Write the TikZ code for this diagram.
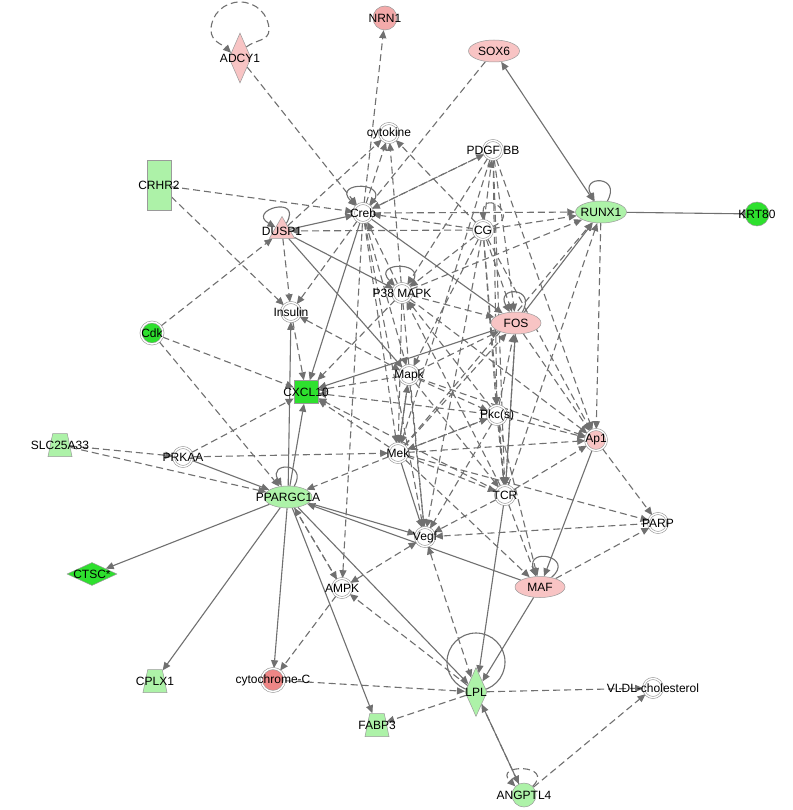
\documentclass[tikz,border=0pt]{standalone}
\usepackage{fontspec}
\setmainfont{Liberation Sans}
\usetikzlibrary{arrows.meta,shapes.geometric}
\pgfdeclarelayer{bgl}
\pgfdeclarelayer{edges}
\pgfsetlayers{bgl,edges,main}
\definecolor{lg}{HTML}{ADF2A8}
\definecolor{bg}{HTML}{2EE02E}
\definecolor{pk}{HTML}{F8C4C4}
\definecolor{rd}{HTML}{EE8686}
\definecolor{ln}{HTML}{707070}
\definecolor{bd}{HTML}{9A9A9A}
\newcommand{\myloop}[5]{\draw[#2] (#1.#3) .. controls +(#3:#5) and +(#4:#5) .. (#1.#4);}
\begin{document}
\begin{tikzpicture}[x=1pt,y=1pt,
 lbl/.style={font=\fontsize{12}{14}\selectfont, inner sep=0pt, text=black},
 dc/.style={circle, draw=bd, double=white, double distance=1.4pt, line width=0.6pt, fill=white, minimum size=19pt, inner sep=0pt},
 dcn/.style={dc, label={[lbl]center:#1}},
 ell/.style={ellipse, draw=bd, line width=0.5pt, minimum width=51pt, minimum height=22pt, inner sep=0pt},
 circ/.style={circle, draw=bd, line width=0.5pt, minimum size=24pt, inner sep=0pt},
 trap/.style={trapezium, trapezium stretches=true, trapezium left angle=72, trapezium right angle=72, draw=bd, line width=0.5pt, fill=lg, minimum width=24pt, minimum height=23pt, inner sep=1pt},
 dia/.style={diamond, draw=bd, line width=0.5pt, aspect=1, inner sep=0pt},
 de/.style={draw=ln, line width=1.1pt, dash pattern=on 7pt off 4pt, -{Triangle[length=8pt,width=7pt]}},
 se/.style={draw=ln, line width=1.1pt, -{Triangle[length=8pt,width=7pt]}},
 deb/.style={de, {Triangle[length=8pt,width=7pt]}-{Triangle[length=8pt,width=7pt]}},
 seb/.style={se, {Triangle[length=8pt,width=7pt]}-{Triangle[length=8pt,width=7pt]}},
 loopline/.style={draw=ln, line width=1.1pt}
]
\begin{pgfonlayer}{bgl}
\fill[white] (0,0) rectangle (792,-810);
\end{pgfonlayer}
\useasboundingbox (0,0) rectangle (792,-810);

% nodes
\node[dia, fill=pk, minimum width=22pt, minimum height=50pt, label={[lbl]center:ADCY1}] (adcy) at (240,-58) {};
\node[circ, fill=rd!70, label={[lbl]center:NRN1}] (nrn) at (385,-18) {};
\node[ell, fill=pk, label={[lbl]center:SOX6}] (sox) at (494,-51) {};
\node[dcn=cytokine] (cyt) at (389,-133) {};
\node[dcn=PDGF BB] (pdgf) at (493,-150) {};
\node[rectangle, draw=bd, line width=0.5pt, fill=lg, minimum width=24pt, minimum height=50pt, inner sep=0pt, label={[lbl]center:CRHR2}] (crhr) at (159,-185) {};
\node[dcn=Creb] (creb) at (363,-213) {};
\node[regular polygon, regular polygon sides=3, draw=bd, line width=0.5pt, fill=pk, minimum size=29pt, inner sep=0pt, label={[lbl]center:DUSP1}] (dusp) at (282,-231) {};
\node[dcn=CG] (cg) at (483,-230) {};
\node[ell, fill=lg, label={[lbl]center:RUNX1}] (runx) at (601,-212) {};
\node[circ, fill=bg, label={[lbl]center:KRT80}] (krt) at (757,-214) {};
\node[dcn=P38 MAPK] (p38) at (402,-293) {};
\node[dcn=Insulin] (ins) at (291,-312) {};
\node[ell, fill=pk, minimum width=50pt, label={[lbl]center:FOS}] (fos) at (516,-323) {};
\node[dc, fill=bg, minimum size=22pt, label={[lbl]center:Cdk}] (cdk) at (152,-333) {};
\node[dcn=Mapk] (mapk) at (409,-375) {};
\node[rectangle, draw=bd, line width=0.5pt, fill=bg, minimum width=24pt, minimum height=23pt, inner sep=0pt, label={[lbl]center:CXCL10}] (cxcl) at (306,-392) {};
\node[dcn=Pkc(s)] (pkc) at (497,-415) {};
\node[dc, fill=pk, minimum size=21pt, label={[lbl]center:Ap1}] (ap1) at (596,-440) {};
\node[trap, label={[lbl]center:SLC25A33}] (slc) at (60,-445) {};
\node[dcn=PRKAA] (prkaa) at (183,-457) {};
\node[dcn=Mek] (mek) at (398,-453) {};
\node[ell, fill=lg, minimum width=48pt, label={[lbl]center:PPARGC1A}] (ppar) at (288,-497) {};
\node[dcn=TCR] (tcr) at (505,-495) {};
\node[dcn=PARP] (parp) at (658,-523) {};
\node[dcn=Vegf] (vegf) at (425,-537) {};
\node[dia, fill=bg, minimum width=50pt, minimum height=23pt, label={[lbl]center:CTSC*}] (ctsc) at (92,-574) {};
\node[ell, fill=pk, minimum width=50pt, minimum height=21pt, label={[lbl]center:MAF}] (maf) at (540,-587) {};
\node[dcn=AMPK] (ampk) at (342,-588) {};
\node[trap, label={[lbl]center:CPLX1}] (cplx) at (155,-681) {};
\node[dc, fill=rd, minimum size=23pt, label={[lbl]center:cytochrome-C}] (cytc) at (273,-680) {};
\node[dia, fill=lg, minimum width=22pt, minimum height=49pt, label={[lbl]center:LPL}] (lpl) at (476,-692) {};
\node[dcn=VLDL-cholesterol] (vldl) at (653,-688) {};
\node[trap, label={[lbl]center:FABP3}] (fabp) at (377,-725) {};
\node[circ, fill=lg, label={[lbl]center:ANGPTL4}] (angp) at (524,-795) {};
\coordinate (adR) at (269,-30);
\coordinate (adT) at (240,-2);
\coordinate (adL) at (211,-30);

\begin{pgfonlayer}{edges}
\foreach \a/\b in {adcy/creb, creb/nrn, sox/creb, crhr/creb, crhr/ins, cdk/dusp, cdk/cxcl, cdk/ppar,
  slc/prkaa, slc/ppar, prkaa/cxcl, prkaa/mek, cg/dusp, dusp/ins, creb/ins, dusp/cyt, creb/cyt, p38/cyt, cg/cyt,
  creb/pdgf, pdgf/creb, cg/creb, cg/pdgf, cg/runx, cg/p38, cg/fos, cg/pkc, cg/tcr, cg/ap1, cg/mapk, cg/vegf,
  pdgf/p38, pdgf/fos, pdgf/pkc, pdgf/tcr, pdgf/ap1, pdgf/mek, creb/mek, creb/vegf, creb/mapk, creb/runx,
  p38/creb, p38/fos, p38/ap1, p38/cxcl, p38/mek, p38/runx, mek/runx, tcr/runx, runx/ap1, mapk/mek,
  mapk/vegf, p38/vegf, pkc/vegf, tcr/vegf, parp/vegf, ins/cxcl, mapk/cxcl, mapk/fos, mapk/pkc, mapk/ap1,
  mapk/tcr, mek/cxcl, mek/ppar, mek/fos, mek/ap1, mek/parp, mek/pkc, mek/tcr, pkc/fos, pkc/ap1, pkc/tcr,
  pkc/p38, pkc/cxcl, pkc/mek, pkc/maf, tcr/ap1, tcr/maf, tcr/cxcl, tcr/p38, fos/ap1, ap1/parp, mek/maf,
  maf/parp, ppar/ampk, ampk/ppar, creb/ampk, ampk/cytc, lpl/ampk, cytc/lpl, lpl/fabp, lpl/vldl, lpl/angp,
  angp/vldl, fos/tcr}
  \draw[de] (\a) -- (\b);
\foreach \a/\b in {ins/mapk, vegf/ampk, vegf/lpl}
  \draw[deb] (\a) -- (\b);
\foreach \a/\b in {dusp/creb, dusp/p38, dusp/mapk, creb/fos, creb/cxcl, ppar/cxcl, ppar/ins, prkaa/ppar,
  mek/mapk, mek/vegf, fos/runx, fos/cxcl, tcr/fos, tcr/lpl, ap1/maf, maf/lpl, maf/ppar, ppar/vegf, ppar/lpl,
  ppar/fabp, ppar/cytc, ppar/cplx, ppar/ctsc, angp/lpl}
  \draw[se] (\a) -- (\b);
\draw[seb] (sox) -- (runx);
\draw[draw=ln, line width=1.1pt, -{Bar[width=9pt,line width=1.6pt]}] (runx) -- (krt);
% self loops
\draw[de] (adcy.60) to[out=40,in=-90] (adR) to[out=90,in=0] (adT) to[out=180,in=90] (adL) to[out=-90,in=135] (adcy.150);
\myloop{creb}{se}{45}{135}{36}
\myloop{dusp}{se}{60}{150}{34}
\myloop{p38}{se}{45}{135}{36}
\myloop{runx}{se}{60}{120}{30}
\myloop{fos}{se}{60}{120}{30}
\myloop{ppar}{se}{60}{120}{28}
\myloop{maf}{se}{40}{110}{32}
\myloop{cg}{de}{20}{90}{32}
\myloop{angp}{de}{45}{135}{32}
\draw[loopline] ([yshift=30pt]lpl.center) circle (29pt);
\end{pgfonlayer}
\end{tikzpicture}
\end{document}
